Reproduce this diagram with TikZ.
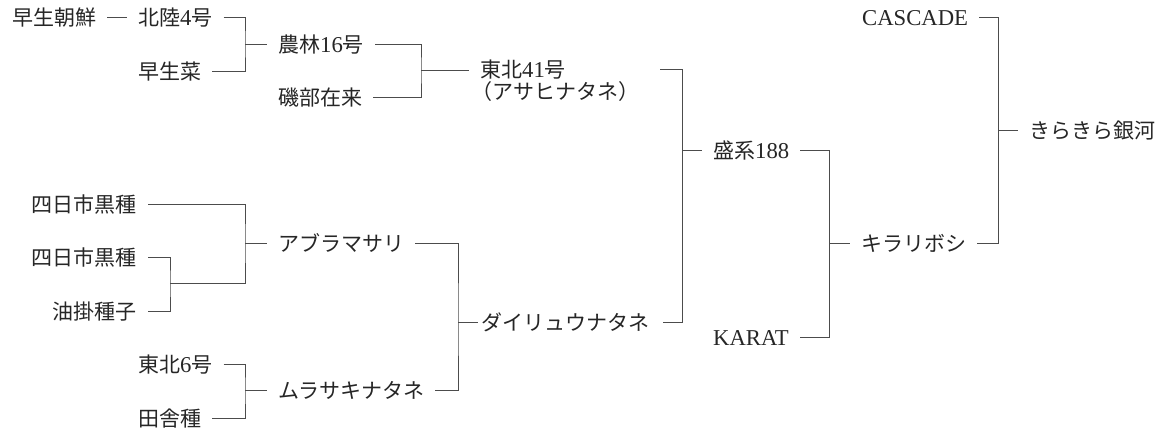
\documentclass[tikz,border=0pt]{standalone}
\usepackage{fontspec}
\setmainfont[Scale=1.08]{Liberation Serif}
\newfontfamily\cjk{Noto Sans CJK JP}
\newcommand\jp[1]{{\cjk #1}}
\begin{document}
\begin{tikzpicture}[x=1pt,y=-1pt,
  lbl/.style={inner xsep=11pt, inner ysep=0pt, text height=18pt, text depth=2pt,
    font=\fontsize{21}{25}\selectfont, text=black!85},
  ln/.style={draw=black!70, line width=0.9pt}]
\useasboundingbox (0,0) rectangle (1169,429);
% nodes
\node[lbl,anchor=west] (wase) at (1,17) {\jp{早生朝鮮}};
\node[lbl,anchor=west] (hok) at (127,17) {\jp{北陸}4\jp{号}};
\node[lbl,anchor=west] (sou) at (127,71) {\jp{早生菜}};
\node[lbl,anchor=west] (nor) at (267,44) {\jp{農林}16\jp{号}};
\node[lbl,anchor=west] (iso) at (267,97) {\jp{磯部在来}};
\node[lbl,anchor=west,text width=169pt] (t41) at (469,69) {\jp{東北}41\jp{号}};
\node[lbl,anchor=west] (asa) at (460,91) {\jp{（アサヒナタネ）}};
\node[lbl,anchor=west] (sei) at (702,150) {\jp{盛系}188};
\node[lbl,anchor=west] (kar) at (702,337) {KARAT};
\node[lbl,anchor=west] (kir) at (850,243) {\jp{キラリボシ}};
\node[lbl,anchor=west] (cas) at (851,17) {CASCADE};
\node[lbl,anchor=west] (gin) at (1018,130) {\jp{きらきら銀河}};
\node[lbl,anchor=east] (yk1) at (148,204) {\jp{四日市黒種}};
\node[lbl,anchor=east] (yk2) at (148,257) {\jp{四日市黒種}};
\node[lbl,anchor=east] (yug) at (148,311) {\jp{油掛種子}};
\node[lbl,anchor=west] (abu) at (267,243) {\jp{アブラマサリ}};
\node[lbl,anchor=west] (th6) at (127,364) {\jp{東北}6\jp{号}};
\node[lbl,anchor=west] (ina) at (127,418) {\jp{田舎種}};
\node[lbl,anchor=west] (mur) at (267,390) {\jp{ムラサキナタネ}};
\node[lbl,anchor=west,inner xsep=0pt] (dai) at (481,322) {\jp{ダイリュウナタネ}};
% junctions
\coordinate (j1) at (245,44);
\coordinate (j2) at (421,70);
\coordinate (j3) at (682,150);
\coordinate (j4) at (829,243);
\coordinate (j6) at (998,130);
\coordinate (j5) at (458,322);
\coordinate (j7) at (245,243);
\coordinate (j8) at (170,283);
\coordinate (j9) at (245,390);
% connectors
\draw[ln] (wase.east) -- (hok.west);
\draw[ln] (hok.east) -| (j1) |- (sou.east);
\draw[ln] (j1) -- (nor.west);
\draw[ln] (nor.east) -| (j2) |- (iso.east);
\draw[ln] (j2) -- (j2 -| t41.west);
\draw[ln] (t41.east) -| (j3) |- ([xshift=14pt]dai.east);
\draw[ln] (j3) -- (sei.west);
\draw[ln] (sei.east) -| (j4) |- (kar.east);
\draw[ln] (j4) -- (kir.west);
\draw[ln] (cas.east) -| (j6) |- (kir.east);
\draw[ln] (j6) -- (gin.west);
\draw[ln] (yk1.east) -| (j7) |- (j8);
\draw[ln] (yk2.east) -| (j8) |- (yug.east);
\draw[ln] (j7) -- (abu.west);
\draw[ln] (abu.east) -| (j5) |- (mur.east);
\draw[ln] (j5) -- ([xshift=-3pt]dai.west);
\draw[ln] (th6.east) -| (j9) |- (ina.east);
\draw[ln] (j9) -- (mur.west);
\end{tikzpicture}
\end{document}
